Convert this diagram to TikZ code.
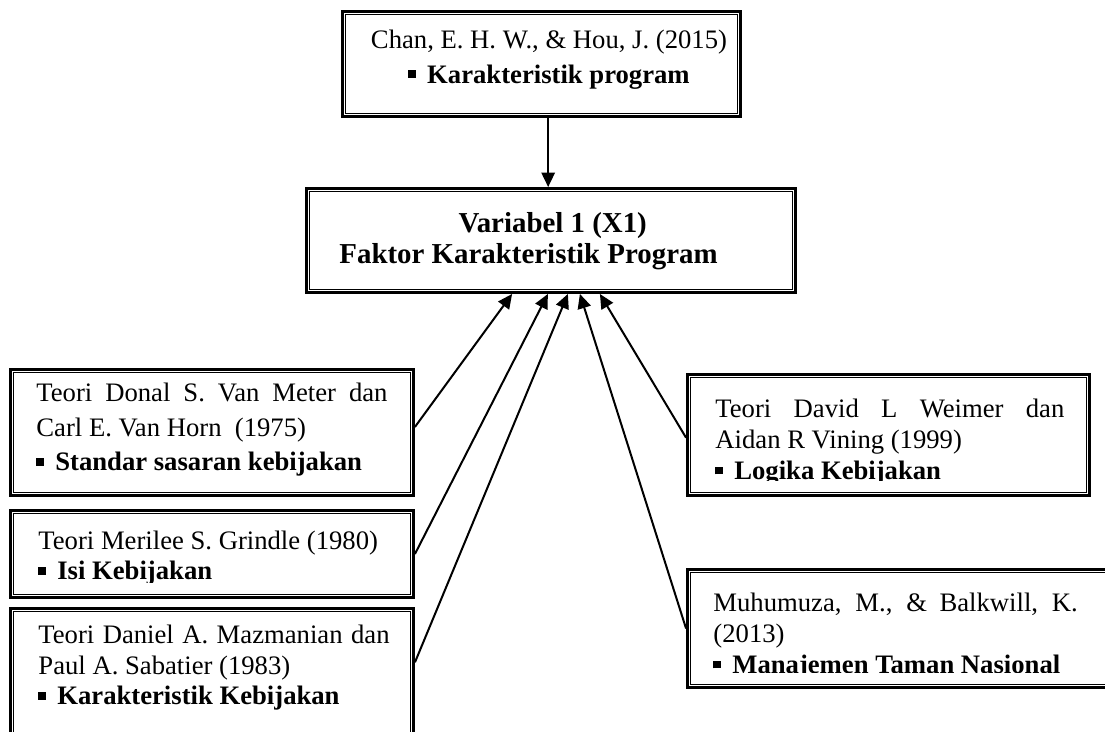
\documentclass[tikz,border=0pt]{standalone}
\usepackage{fontspec}
\setmainfont{Liberation Serif}
\usetikzlibrary{arrows.meta,calc,fit}
\newcommand\sqbullet{\rule[2.3pt]{3.5pt}{3.5pt}\hspace{5pt}}
\tikzset{line width=.8pt,
  boxframe/.style={draw,line width=1.3pt,inner sep=0pt},
  innerframe/.style={draw,line width=.75pt},
  body/.style={inner sep=0pt,font=\fontsize{12}{13.7}\selectfont},
  wide/.style={font=\fontsize{12}{15.5}\selectfont},
  theory/.style={body,anchor=west,text width=158pt,align=justify},
  link/.style={-{Triangle[length=6.5pt,width=6pt]},line width=.9pt}}

\begin{document}
\begin{tikzpicture}[x=.45pt,y=-.45pt]
\useasboundingbox (0,0) rectangle (1105,731);
% frames
\node[boxframe,fit={(342.5,11.5)(740.5,116.5)}] (chan) {};
\node[boxframe,fit={(306.5,188.5)(795.5,292.5)}] (var) {};
\node[boxframe,fit={(10.5,369.5)(413.5,495.5)}] (vanmeter) {};
\node[boxframe,fit={(10.5,510.5)(413.5,597.5)}] (grindle) {};
\node[boxframe,fit={(10.5,608.5)(413.5,745)}] (mazmanian) {};
\node[boxframe,fit={(687.5,374.5)(1089.5,495.5)}] (weimer) {};
\node[boxframe,fit={(687.5,569.5)(1120,687.5)}] (muhumuza) {};
\foreach \b in {chan,var,vanmeter,grindle,mazmanian,weimer,muhumuza}
  \draw[innerframe] ([shift={(1.95pt,-1.95pt)}]\b.north west) rectangle ([shift={(-1.95pt,1.95pt)}]\b.south east);

% texts
\node[body,wide,align=center] (chantxt) at (549,59.5) {Chan, E. H. W., \& Hou, J. (2015)\\\sqbullet\textbf{Karakteristik program}};
\node[body,anchor=west,align=left,font=\bfseries\fontsize{13}{14}\selectfont] (vartxt) at (339,241) {\hspace*{53.6pt}Variabel 1 (X1)\\Faktor Karakteristik Program};
\node[theory,wide] (vanmetertxt) at (36,430) {Teori Donal S. Van Meter dan\linebreak Carl E. Van Horn\ \ (1975)\\\sqbullet\textbf{Standar sasaran kebijakan}};
\begin{scope}
\clip (grindle.north west) rectangle ($(grindle.south east)+(0,-16)$);
\node[theory] (grindletxt) at (38,558) {Teori Merilee S. Grindle (1980)\\\sqbullet\textbf{Isi Kebijakan}};
\end{scope}
\node[theory] (mazmaniantxt) at (38,668) {Teori Daniel A. Mazmanian dan\linebreak Paul A. Sabatier (1983)\\\sqbullet\textbf{Karakteristik Kebijakan}};
\begin{scope}
\clip (weimer.north west) rectangle ($(weimer.south east)+(0,-16)$);
\node[theory,text width=157pt,font=\fontsize{12}{14}\selectfont] (weimertxt) at (715,442) {Teori David L Weimer dan\linebreak Aidan R Vining (1999)\\\sqbullet\textbf{Logika Kebijakan}};
\end{scope}
\begin{scope}
\clip (muhumuza.north west) rectangle ($(muhumuza.south east)+(0,-16)$);
\node[theory,text width=164pt,font=\fontsize{12}{14}\selectfont] (muhumuzatxt) at (713,636) {Muhumuza, M., \& Balkwill, K.\linebreak (2013)\\\sqbullet\textbf{Manajemen Taman Nasional}};
\end{scope}

% arrows
\coordinate (drop) at ([xshift=3pt]chan.south);
\draw[link] (drop) -- (drop |- var.north);
\draw[link] ([yshift=2.5pt]vanmeter.east) -- ([xshift=-17.5pt]var.south);
\draw[link] (grindle.east) -- ([xshift=-1.4pt]var.south);
\draw[link] ([yshift=6.5pt]mazmanian.east) -- ([xshift=7.6pt]var.south);
\draw[link] (muhumuza.west) -- ([xshift=13pt]var.south);
\draw[link] ([yshift=-1.2pt]weimer.west) -- ([xshift=22pt]var.south);
\end{tikzpicture}
\end{document}
